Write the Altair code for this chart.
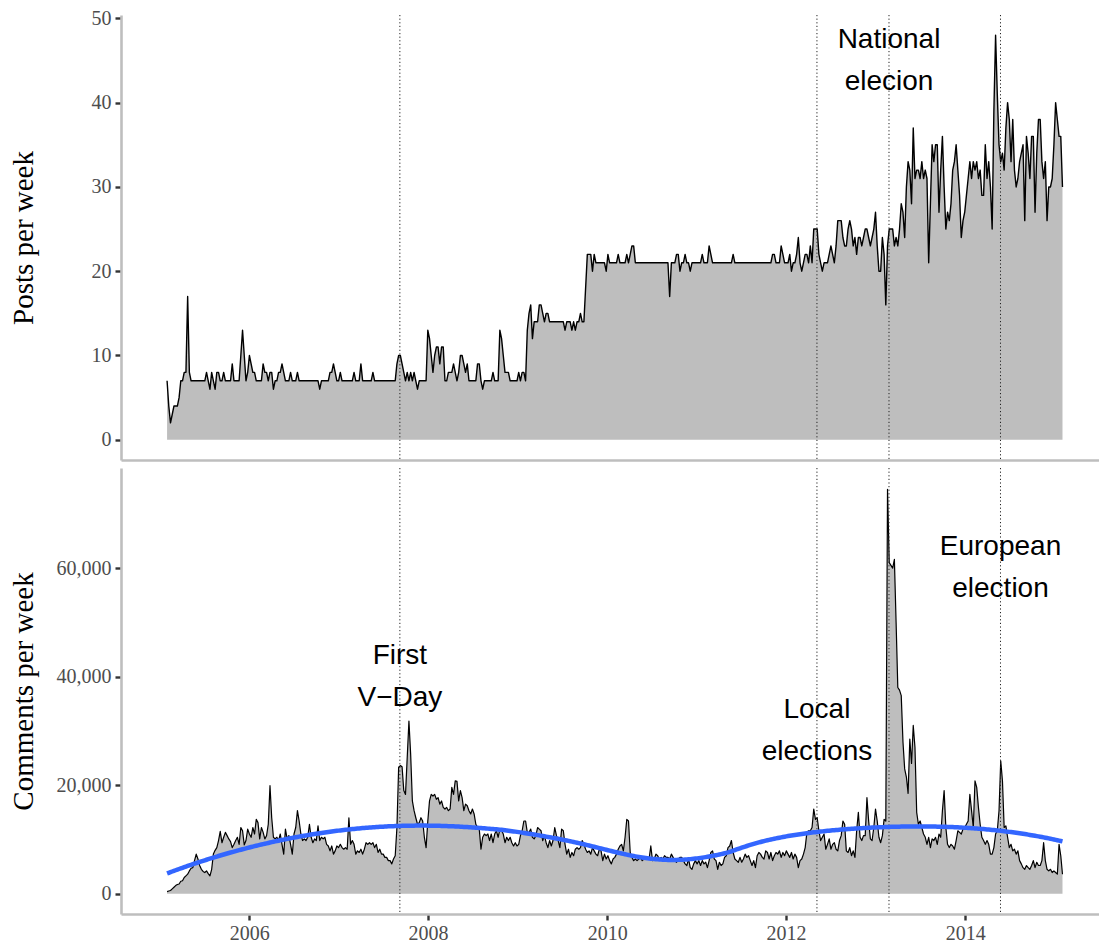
import altair as alt
import numpy as np
import pandas as pd

# Weekly series, first week starting 2005-01-31
START = "2005-01-31"

# Blog posts per week
posts = [
    7, 4, 2, 3, 4, 4, 4, 5, 7, 7, 8, 8, 17, 8, 7, 7, 7,
    7, 7, 7, 7, 7, 7,
    8, 7, 6, 8, 7, 6, 8, 8, 7, 7, 8, 7, 7, 7, 7, 9, 7,
    7, 7, 7, 10, 13, 10, 7, 8, 10, 9, 8, 8, 7, 7, 7, 7,
    9, 8, 8, 7, 8, 8, 6, 7, 7, 8, 8, 9, 8, 7, 7, 7, 8, 7, 7, 7, 8, 7,
    7, 7, 7, 7, 7, 7, 7, 7, 7, 7, 7,
    6, 7, 7, 7, 7, 7,
    8, 8, 9, 8, 7, 7, 8, 7, 7, 7, 7, 7, 7, 7,
    8, 7, 7, 7, 9, 7, 7, 7, 7, 7, 7, 8, 7,
    7, 7, 7, 7, 7, 7, 7, 7, 7, 7, 7, 7,
    9, 10, 10, 9, 8, 7, 8, 7, 8, 7, 8, 7, 6, 7, 7, 7, 7, 7,
    13, 12, 10, 8, 10, 11, 11, 9, 11, 11, 7, 7,
    8, 8, 8, 9, 8, 7, 8, 10, 10, 9, 8, 9, 7,
    7, 7, 7, 7, 9, 9, 7, 6, 7, 7, 7, 7, 7, 8, 7, 7, 7,
    13, 12, 10, 8, 8, 8, 7, 7, 7, 7, 7, 8, 7, 8, 8, 7,
    13, 15, 16, 12, 14, 14, 14, 16, 16, 15, 14, 15, 15, 14, 14, 14, 14,
    14, 14, 14, 14, 14, 13, 14, 14, 14, 13, 14, 13, 14, 14, 15, 14, 14,
    18, 22, 22, 22, 20, 22, 21, 21, 21, 21, 21, 21, 20, 22, 21,
    21, 21, 21, 21, 22, 21, 21, 21, 21, 22, 21, 22, 23, 23, 21,
    21, 21, 21, 21, 21, 21, 21, 21, 21, 21, 21, 21, 21, 21, 21, 21, 21, 21, 21,
    17, 21, 21, 21, 22, 22, 20, 21, 21, 22, 21, 21, 20, 21,
    21, 21, 21, 21, 21, 22, 21, 21, 21, 23, 22, 21, 21,
    21, 21, 21, 21, 21, 21, 21, 21, 21, 21,
    22, 21,
    21, 21, 21, 21, 21, 21, 21, 21, 21, 21, 21, 21, 21, 21, 21, 21, 21, 21, 21, 21, 21,
    22, 22, 21, 21, 21, 23, 22, 21, 21, 21, 22, 20, 21, 21, 22,
    24, 21, 20, 21, 22, 22, 21, 23, 21, 25, 25, 25, 22, 21, 20, 21, 21, 21, 22, 23, 22, 21, 23,
    26, 26, 26, 24, 23, 23, 25, 26, 25, 23, 24, 22, 24, 24, 23, 24, 25, 25, 24,
    23, 24, 25, 27, 23, 20, 20, 24, 22, 16, 23, 25, 25, 25, 23, 24, 23, 25,
    28, 27, 24, 30, 33, 32, 28, 37, 31, 32, 32, 31, 33, 31, 32, 31, 21, 28,
    35, 33, 35, 35, 27, 32, 36, 30, 25, 27, 26, 28, 32, 33, 35, 32, 29, 24,
    26, 27, 29, 31, 33, 31, 33, 32, 33, 31, 32, 29, 29, 35, 31, 33, 30,
    25, 39, 48, 41, 35, 33, 34, 32, 37, 40, 38, 33, 38, 32, 30, 31, 33, 34, 35, 26, 36,
    34, 31, 36, 36, 27, 34, 38, 38, 33, 31, 33, 26, 30, 30, 31, 35, 40, 38, 36, 36, 30,
]

# Comments per week, in thousands
comments_k = [
    0.4, 0.5, 0.6, 0.9, 1.2, 1.5, 1.7, 1.8, 2.3, 2.4,
    3.0, 3.3, 3.6, 4.2, 4.7, 4.8, 6.1, 7.3, 6.4, 5.2,
    4.5, 4.1, 3.9, 4.2, 3.7, 3.3, 4.5, 7.3, 8.0, 8.5,
    9.8, 11.5, 9.4, 10.4, 11.3, 10.7, 10.1, 9.6, 8.5, 9.1,
    9.8, 10.4, 9.1, 12.2, 11.6, 9.0, 9.8, 11.9, 11.0, 10.4,
    12.2, 11.0, 13.7, 13.1, 10.1, 12.2, 11.3, 10.1, 10.7, 12.8,
    19.9, 14.0, 10.4, 10.1, 10.4, 9.8, 11.0, 9.1, 7.3, 11.9,
    10.1, 10.7, 9.1, 7.3, 11.0, 12.2, 15.3, 13.4, 11.0, 9.8,
    10.1, 9.8, 10.4, 12.8, 10.4, 9.4, 10.1, 9.8, 12.5, 9.8,
    10.4, 10.1, 10.4, 9.1, 8.8, 7.9, 8.8, 7.3, 7.9, 8.8,
    8.5, 9.1, 8.5, 8.2, 8.5, 8.2, 14.0, 9.1, 9.8, 9.1,
    7.3, 7.9, 7.6, 8.2, 7.3, 8.2, 9.4, 9.1, 9.4, 9.1,
    9.4, 8.5, 9.1, 7.6, 8.2, 7.3, 7.3, 6.7, 6.7, 6.1,
    6.1, 5.5, 6.4, 7.0, 12.2, 23.3, 23.6, 23.4, 19.0, 18.3,
    25.1, 31.8, 25.7, 17.1, 15.3, 14.0, 12.8, 13.1, 14.0, 13.4,
    10.4, 8.5, 13.4, 17.1, 18.3, 18.0, 18.3, 17.4, 17.7, 16.5,
    17.1, 15.9, 15.6, 15.9, 15.3,
    15.6, 19.6, 18.3, 20.8, 20.7, 17.1, 19.0, 17.7, 15.3, 16.5,
    16.2, 15.3, 14.7, 15.6, 14.7, 12.8, 12.2, 11.9, 8.2, 10.4,
    11.0, 10.7, 11.0, 9.8, 11.0, 9.4, 11.0, 11.6, 10.4, 11.9,
    11.6, 11.0, 9.4, 10.4, 9.8, 10.4, 9.4, 8.8, 9.4, 8.8,
    9.1, 10.7, 11.6, 13.4, 13.4, 11.3, 11.3, 11.9, 10.4, 10.1,
    10.7, 12.2, 11.9, 11.6, 9.8, 10.7, 9.4, 8.5, 9.8, 8.8,
    9.8, 12.2, 10.7, 9.8, 8.5, 11.9, 11.6, 9.1, 7.3, 8.2,
    6.7, 7.6, 7.0, 8.2, 8.5, 8.2, 8.5, 9.8, 9.1, 8.2,
    7.6, 7.9, 7.3, 8.5, 7.9, 7.3, 7.0, 8.2, 7.9, 6.1,
    7.3, 6.4, 7.0, 6.1, 5.5, 6.4, 6.7, 7.3, 8.2, 8.8,
    9.1, 7.9, 10.4, 13.7, 13.4, 7.6, 6.7, 6.1, 6.4, 6.1,
    6.4, 6.7, 6.1, 6.4, 6.7, 6.4, 6.4, 8.8, 6.1, 6.4,
    7.3, 7.0, 6.4, 6.7, 6.4, 7.0, 6.7, 6.7, 6.4, 7.3,
    6.7, 6.1, 5.8, 6.4, 6.7, 6.7, 6.1, 5.5, 5.2, 6.4,
    4.8, 4.5, 5.5, 6.1, 5.5, 6.1, 5.2, 6.1, 5.5, 5.8,
    4.8, 6.1, 7.6, 7.9, 6.4, 6.1, 4.5, 5.8, 5.2, 5.5,
    6.7, 7.0, 8.5, 8.8, 9.8, 7.6, 6.4, 6.1, 5.8, 6.7,
    5.8, 6.4, 7.3, 6.7, 7.0, 6.1, 5.2, 6.1, 4.8, 7.0,
    7.6, 7.3, 6.7, 6.4, 7.9, 7.6,
    6.4, 7.6, 6.1, 7.0, 7.6, 7.3, 7.9, 6.7, 7.6, 7.0,
    7.9, 7.3, 6.7, 7.6, 6.4, 7.3, 6.7, 4.8, 6.1, 6.4,
    7.3, 8.5, 11.3, 11.6, 11.6, 12.2, 15.6, 13.7, 14.0, 11.6,
    9.8, 10.4, 11.0, 8.2, 9.1, 10.1, 8.2, 9.1, 9.4, 8.2,
    7.9, 9.8, 10.7, 13.4, 12.8, 7.9, 7.6, 8.5, 7.0, 7.9,
    6.7, 11.6, 15.0, 10.4, 9.8, 10.7, 10.7, 17.7, 13.4, 10.1,
    9.8, 12.2, 15.6, 13.4, 10.4, 9.4, 10.7, 13.7, 13.4, 74.5,
    61.0, 60.5, 60.0, 61.6, 50.0, 38.0, 37.5, 36.5, 28.0, 23.0,
    21.5, 18.5, 28.5, 24.0, 31.0, 27.0, 15.0, 12.8, 13.4, 12.2,
    11.0, 10.4, 9.1, 10.4, 8.5, 10.1, 9.8, 10.4, 9.1, 11.0,
    10.4, 15.3, 19.0, 12.2, 9.1, 8.5, 9.1, 8.8, 8.2, 9.8,
    11.6, 11.3, 11.0, 11.9, 12.2, 12.8, 13.4, 18.3, 15.3, 12.2,
    20.8, 19.6, 15.9, 12.8, 10.4, 9.8, 9.1, 9.8, 9.1, 7.3,
    7.3, 8.5, 11.0, 11.6, 15.3, 24.5, 20.8, 12.2, 12.5, 10.4,
    8.5, 9.1, 7.9, 8.2, 7.3, 7.9, 6.1, 5.5, 4.8, 4.5,
    5.2, 4.8, 4.5, 5.2, 6.1, 4.8, 5.8, 5.2, 5.2, 6.1,
    9.4, 6.1, 4.5, 4.2, 4.5, 3.9, 4.2, 3.9, 3.6, 9.1,
    7.0, 3.6,
]

# Events marked with dotted rules
event_dates = ["2007-09-08", "2012-05-06", "2013-02-24", "2014-05-25"]

# Annotation labels (date, y position in data units, text)
post_label_dates = ["2013-02-24"]
post_label_y = [45]
post_label_text = ["National\nelecion"]

comment_label_dates = ["2007-09-08", "2012-05-06", "2014-05-25"]
comment_label_y = [40000, 30000, 60000]
comment_label_text = ["First\nV\u2212Day", "Local\nelections", "European\nelection"]

year_ticks = [2006, 2008, 2010, 2012, 2014]


def weekly_dates(n):
    return pd.date_range(START, periods=n, freq="7D")


def loess_quadratic(x, y, span=0.75):
    """Local quadratic regression with tricube weights (R's loess defaults)."""
    n = len(x)
    q = int(np.floor(n * span))
    fitted = np.empty(n)
    for i, x0 in enumerate(x):
        dist = np.abs(x - x0)
        h = np.partition(dist, q - 1)[q - 1]
        w = (1 - np.clip(dist / h, 0, 1) ** 3) ** 3
        dx = x - x0
        A = np.column_stack([np.ones(n), dx, dx ** 2])
        sw = np.sqrt(w)
        coef, *_ = np.linalg.lstsq(A * sw[:, None], y * sw, rcond=None)
        fitted[i] = coef[0]
    return fitted


post_dates = weekly_dates(len(posts))
posts_df = pd.DataFrame({"date": post_dates.strftime("%Y-%m-%d"), "posts": posts})

comment_dates = weekly_dates(len(comments_k))
comments = np.array(comments_k) * 1000
comments_df = pd.DataFrame({"date": comment_dates.strftime("%Y-%m-%d"), "comments": comments})

t_years = (comment_dates - comment_dates[0]).days.values / 365.25
smooth_df = pd.DataFrame({
    "date": comment_dates.strftime("%Y-%m-%d"),
    "fit": loess_quadratic(t_years, comments),
})

events_df = pd.DataFrame({"date": event_dates})
post_labels_df = pd.DataFrame({"date": post_label_dates, "y": post_label_y, "text": post_label_text})
comment_labels_df = pd.DataFrame({"date": comment_label_dates, "y": comment_label_y, "text": comment_label_text})

WIDTH = 978
TOP_H = 445
BOT_H = 446
LINE_H = 42

x_scale = alt.Scale(
    type="utc",
    domain=[
        alt.DateTime(year=2004, month=7, date=27, utc=True),
        alt.DateTime(year=2015, month=7, date=1, utc=True),
    ],
)
tick_values = [alt.DateTime(year=y, month=1, date=1, utc=True) for y in year_ticks]

x_top = alt.X("date:T", scale=x_scale,
              axis=alt.Axis(values=tick_values, labels=False, ticks=False, title=None))
x_bottom = alt.X("date:T", scale=x_scale,
                 axis=alt.Axis(values=tick_values, format="%Y", formatType="utc", title=None))

y_posts_scale = alt.Scale(domain=[-2.4, 50.4], nice=False, zero=False)
y_comments_scale = alt.Scale(domain=[-3735, 78435], nice=False, zero=False)

title_kw = dict(titleX=-98, titleAngle=270, titleAlign="center", titleBaseline="middle")

rules_dotted = dict(color="#222222", strokeWidth=1, strokeDash=[1.2, 2.4])
# two-line labels, centred on their y value
label_kw = dict(font="Liberation Sans", fontSize=28, color="black", align="center",
                baseline="middle", lineBreak="\n", lineHeight=LINE_H, dy=-LINE_H / 2)

# --- Posts panel ---
p_area = alt.Chart(posts_df).mark_area(color="#BEBEBE").encode(
    x=x_top,
    y=alt.Y("posts:Q", scale=y_posts_scale,
            axis=alt.Axis(values=[0, 10, 20, 30, 40, 50], format="d",
                          title="Posts per week", titleY=TOP_H / 2, **title_kw)),
    y2=alt.datum(0),
)
p_line = alt.Chart(posts_df).mark_line(color="black", strokeWidth=1.4, strokeJoin="round").encode(
    x="date:T", y="posts:Q"
)
p_rules = alt.Chart(events_df).mark_rule(**rules_dotted).encode(x="date:T")
p_text = alt.Chart(post_labels_df).mark_text(**label_kw).encode(
    x="date:T", y="y:Q", text="text:N"
)
top = alt.layer(p_area, p_line, p_rules, p_text).properties(width=WIDTH, height=TOP_H)

# --- Comments panel ---
c_area = alt.Chart(comments_df).mark_area(color="#BEBEBE").encode(
    x=x_bottom,
    y=alt.Y("comments:Q", scale=y_comments_scale,
            axis=alt.Axis(values=[0, 20000, 40000, 60000], format=",d",
                          title="Comments per week", titleY=BOT_H / 2, **title_kw)),
    y2=alt.datum(0),
)
c_line = alt.Chart(comments_df).mark_line(color="black", strokeWidth=1.2, strokeJoin="round").encode(
    x="date:T", y="comments:Q"
)
c_rules = alt.Chart(events_df).mark_rule(**rules_dotted).encode(x="date:T")
c_smooth = alt.Chart(smooth_df).mark_line(color="#3366FF", strokeWidth=4.5).encode(
    x="date:T", y="fit:Q"
)
c_text = alt.Chart(comment_labels_df).mark_text(**label_kw).encode(
    x="date:T", y="y:Q", text="text:N"
)
bottom = alt.layer(c_area, c_line, c_rules, c_smooth, c_text).properties(width=WIDTH, height=BOT_H)

chart = (
    alt.vconcat(top, bottom, spacing=8, bounds="flush")
    .properties(padding={"left": 9, "top": 8, "right": 0, "bottom": 0}, background="white")
    .configure_view(stroke=None)
    .configure_axis(
        grid=False,
        domainColor="#BEBEBE",
        domainWidth=2.6,
        tickColor="#333333",
        tickWidth=2.4,
        tickSize=6,
        labelFont="Liberation Serif",
        labelFontSize=20,
        labelColor="#4D4D4D",
        labelPadding=4,
        titleFont="Liberation Serif",
        titleFontSize=29,
        titleFontWeight="normal",
        titleColor="black",
    )
    .configure_axisBottom(labelPadding=3)
)

chart.save("out.html", embed_options={"renderer": "svg", "actions": False})
